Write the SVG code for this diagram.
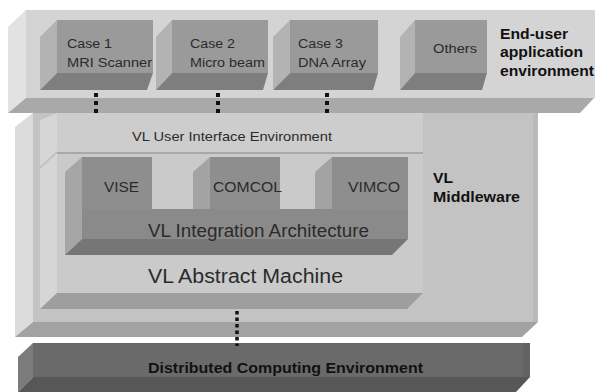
<svg xmlns="http://www.w3.org/2000/svg" width="595" height="392" viewBox="0 0 595 392">
<style>
text{font-family:"Liberation Sans",Arial,sans-serif;fill:#2b2b2b}
.b{font-weight:bold;fill:#111}
.case{font-size:12.5px}
.dots{stroke:#111;fill:none}
</style>
<rect width="595" height="392" fill="#ffffff"/>
<g id="end-user-layer">
<polygon points="8,27 26,10 26,98 8,113" fill="#e2e2e2"/>
<rect x="26" y="10" width="569" height="88" fill="#d4d4d4"/>
<polygon points="26,98 594,98 580,113 8,113" fill="#a9a9a9"/>
<text class="b" x="500" y="38.5" font-size="14" textLength="68" lengthAdjust="spacingAndGlyphs">End-user</text>
<text class="b" x="500" y="57" font-size="14" textLength="83" lengthAdjust="spacingAndGlyphs">application</text>
<text class="b" x="500" y="76" font-size="14" textLength="94" lengthAdjust="spacingAndGlyphs">environment</text>
</g>
<g id="case1">
<polygon points="40,37 57,20 57,73 40,90" fill="#b3b3b3"/>
<polygon points="57,73 153,73 147,90 40,90" fill="#7e7e7e"/>
<rect x="57" y="20" width="96" height="53" fill="#9a9a9a"/>
<text class="case" x="67" y="48" textLength="45" lengthAdjust="spacingAndGlyphs">Case 1</text>
<text class="case" x="67" y="66.5" textLength="85" lengthAdjust="spacingAndGlyphs">MRI Scanner</text>
</g>
<g id="case2">
<polygon points="156,37 172,20 172,73 156,90" fill="#b3b3b3"/>
<polygon points="172,73 268,73 263,90 156,90" fill="#7e7e7e"/>
<rect x="172" y="20" width="96" height="53" fill="#9a9a9a"/>
<text class="case" x="190" y="48" textLength="45" lengthAdjust="spacingAndGlyphs">Case 2</text>
<text class="case" x="190" y="66.5" textLength="75" lengthAdjust="spacingAndGlyphs">Micro beam</text>
</g>
<g id="case3">
<polygon points="273,37 290,20 290,73 273,90" fill="#b3b3b3"/>
<polygon points="290,73 378,73 373,90 273,90" fill="#7e7e7e"/>
<rect x="290" y="20" width="88" height="53" fill="#9a9a9a"/>
<text class="case" x="298" y="48" textLength="45" lengthAdjust="spacingAndGlyphs">Case 3</text>
<text class="case" x="298" y="66.5" textLength="68" lengthAdjust="spacingAndGlyphs">DNA Array</text>
</g>
<g id="others">
<polygon points="400,37 415,20 415,73 400,90" fill="#b3b3b3"/>
<polygon points="415,73 487,73 482,90 400,90" fill="#7e7e7e"/>
<rect x="415" y="20" width="72" height="53" fill="#9a9a9a"/>
<text class="case" x="433" y="53" textLength="44" lengthAdjust="spacingAndGlyphs">Others</text>
</g>
<g id="vl-middleware">
<polygon points="15,127 33,113 33,322 15,337" fill="#dcdcdc"/>
<rect x="33" y="113" width="505" height="209" fill="#c3c3c3"/>
<rect x="533" y="113" width="5" height="209" fill="#bababa"/>
<polygon points="33,322 538,322 522,337 15,337" fill="#a2a2a2"/>
<text class="b" x="433" y="183" font-size="14" textLength="20" lengthAdjust="spacingAndGlyphs">VL</text>
<text class="b" x="433" y="202" font-size="14" textLength="87" lengthAdjust="spacingAndGlyphs">Middleware</text>
</g>
<g id="vl-abstract-machine">
<polygon points="40,120 57,113 57,293 40,309" fill="#d6d6d6"/>
<line x1="40" y1="168" x2="57" y2="152" stroke="#bdbdbd" stroke-width="1.5"/>
<rect x="57" y="113" width="366" height="180" fill="#cacaca"/>
<polygon points="57,293 423,293 407,309 40,309" fill="#9e9e9e"/>
<text x="148" y="283" font-size="20" textLength="195" lengthAdjust="spacingAndGlyphs">VL Abstract Machine</text>
</g>
<g id="vl-user-interface">
<rect x="57" y="113" width="366" height="39" fill="#cdcdcd"/>
<line x1="57" y1="153" x2="423" y2="153" stroke="#a9a9a9" stroke-width="2"/>
<text x="132" y="140.5" font-size="13.5" textLength="200" lengthAdjust="spacingAndGlyphs">VL User Interface Environment</text>
</g>
<g id="vl-integration-architecture">
<polygon points="65,172 82,157 82,239 65,255" fill="#a6a6a6"/>
<polygon points="82,239 408,239 392,255 65,255" fill="#767676"/>
<rect x="82" y="209" width="326" height="30" fill="#8a8a8a"/>
<text x="148" y="236.5" font-size="17.5" textLength="221" lengthAdjust="spacingAndGlyphs">VL Integration Architecture</text>
</g>
<g id="vise">
<rect x="82" y="157" width="70" height="52" fill="#8e8e8e"/>
<text x="104" y="192" font-size="15" textLength="35" lengthAdjust="spacingAndGlyphs">VISE</text>
</g>
<g id="comcol">
<polygon points="193,172 210,157 210,209 193,209" fill="#a3a3a3"/>
<rect x="210" y="157" width="70" height="52" fill="#8e8e8e"/>
<text x="213" y="192" font-size="15" textLength="69" lengthAdjust="spacingAndGlyphs">COMCOL</text>
</g>
<g id="vimco">
<polygon points="315,172 332,157 332,209 315,209" fill="#a3a3a3"/>
<rect x="332" y="157" width="76" height="52" fill="#8e8e8e"/>
<text x="348" y="192" font-size="15" textLength="52" lengthAdjust="spacingAndGlyphs">VIMCO</text>
</g>
<g id="distributed-computing">
<polygon points="18,357 33,343 33,377 18,392" fill="#7b7b7b"/>
<rect x="33" y="343" width="497" height="34" fill="#6a6a6a"/>
<rect x="523" y="343" width="7" height="34" fill="#636363"/>
<polygon points="33,377 530,377 516,392 18,392" fill="#575757"/>
<text class="b" x="148" y="373" font-size="14.5" textLength="275" lengthAdjust="spacingAndGlyphs">Distributed Computing Environment</text>
</g>
<g id="connectors">
<line class="dots" x1="96" y1="93" x2="96" y2="113" stroke-width="4" stroke-dasharray="4 4"/>
<line class="dots" x1="218" y1="93" x2="218" y2="113" stroke-width="4" stroke-dasharray="4 4"/>
<line class="dots" x1="327" y1="93" x2="327" y2="113" stroke-width="4" stroke-dasharray="4 4"/>
<line class="dots" x1="237" y1="311" x2="237" y2="346" stroke-width="3.5" stroke-dasharray="3.5 3"/>
</g>
</svg>
